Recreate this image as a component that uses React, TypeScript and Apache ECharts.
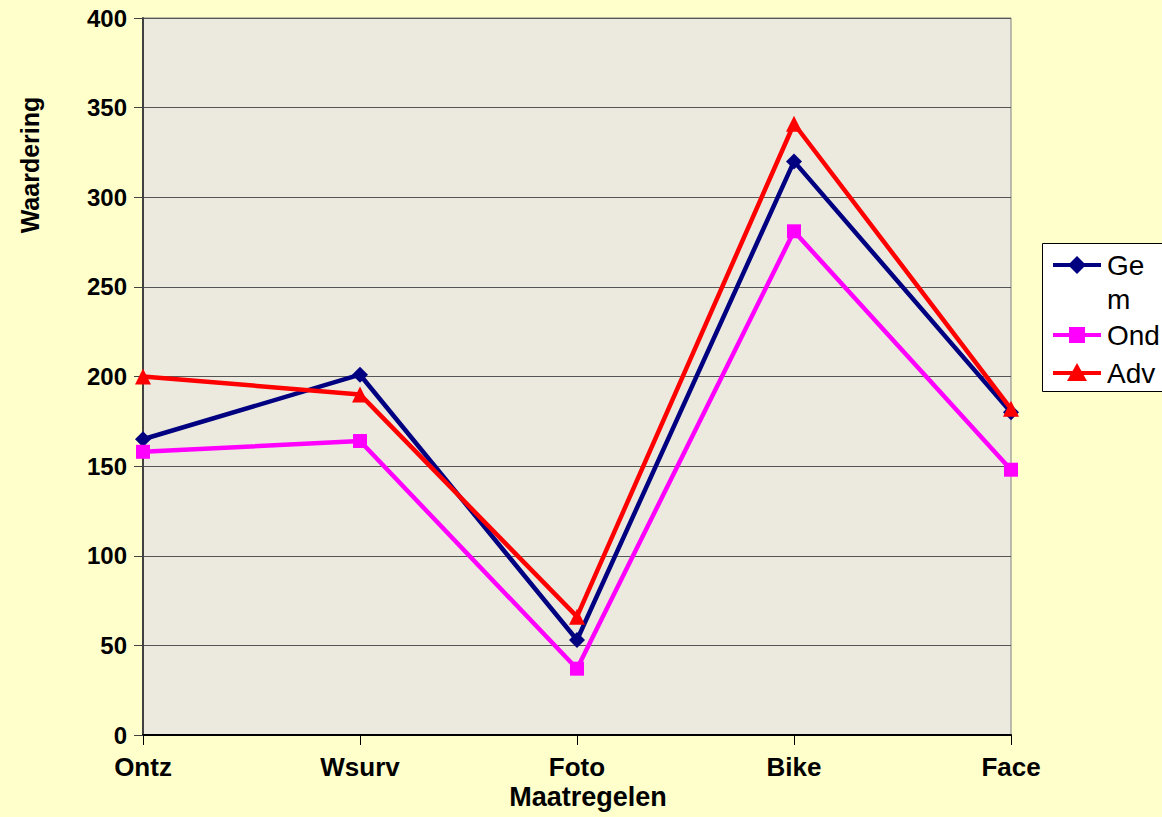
import React, { useEffect, useRef } from "react";
import * as echarts from "echarts";

const categories = ["Ontz", "Wsurv", "Foto", "Bike", "Face"];
const gemValues = [165, 201, 53, 320, 180];
const ondValues = [158, 164, 37, 281, 148];
const advValues = [200, 190, 66, 341, 182];
const seriesNames = ["Gem", "Ond", "Adv"];
const seriesColors = ["#000080", "#FF00FF", "#FF0000"];
const yAxisTitle = "Waardering";
const xAxisTitle = "Maatregelen";

const FONT = "'Liberation Sans', Arial, sans-serif";

export default function App() {
  const ref = useRef<HTMLDivElement>(null);
  useEffect(() => {
    if (!ref.current) return;
    const chart = echarts.init(ref.current, undefined, { renderer: "svg" });
    const legendX = 1042;
    const legendY = 243;
    const legendRows = [265, 335, 373];
    const legendGraphics: any[] = [
      {
        type: "rect",
        shape: { x: legendX + 0.5, y: legendY + 0.5, width: 140, height: 148 },
        style: { fill: "#FFFFFF", stroke: "#000000", lineWidth: 1 },
      },
    ];
    seriesNames.forEach((name, i) => {
      const y = legendRows[i];
      const c = seriesColors[i];
      legendGraphics.push({
        type: "line",
        shape: { x1: 1053, y1: y, x2: 1101, y2: y },
        style: { stroke: c, lineWidth: 4 },
      });
      const cx = 1077;
      if (i === 0) {
        legendGraphics.push({
          type: "polygon",
          shape: { points: [[cx, y - 9], [cx + 9, y], [cx, y + 9], [cx - 9, y]] },
          style: { fill: c },
        });
      } else if (i === 1) {
        legendGraphics.push({
          type: "rect",
          shape: { x: cx - 8, y: y - 8, width: 16, height: 16 },
          style: { fill: c },
        });
      } else {
        legendGraphics.push({
          type: "polygon",
          shape: { points: [[cx, y - 10], [cx + 10, y + 8], [cx - 10, y + 8]] },
          style: { fill: c },
        });
      }
      const label = i === 0 ? "Ge" : name;
      legendGraphics.push({
        type: "text",
        x: 1107,
        y,
        style: {
          text: label,
          font: `28px ${FONT}`,
          fill: "#000",
          textVerticalAlign: "middle",
          textAlign: "left",
        },
      });
      if (i === 0) {
        legendGraphics.push({
          type: "text",
          x: 1107,
          y: 299,
          style: {
            text: "m",
            font: `28px ${FONT}`,
            fill: "#000",
            textVerticalAlign: "middle",
            textAlign: "left",
          },
        });
      }
    });

    const mkSeries = (name: string, data: number[], color: string, symbol: string, size: number) => ({
      name,
      type: "line",
      data,
      symbol,
      symbolSize: size,
      showSymbol: true,
      lineStyle: { color, width: 4.5 },
      itemStyle: { color },
      z: 3,
    });

    chart.setOption({
      animation: false,
      backgroundColor: "#FFFFCC",
      grid: {
        left: 143,
        right: 151,
        top: 18,
        bottom: 82,
        show: true,
        backgroundColor: "#ECE9DF",
        borderColor: "#808080",
        borderWidth: 1,
      },
      xAxis: {
        type: "category",
        data: categories,
        boundaryGap: false,
        axisLine: { show: true, lineStyle: { color: "#000", width: 2 } },
        axisTick: { show: true, alignWithLabel: true, length: 10, lineStyle: { color: "#000" } },
        axisLabel: {
          color: "#000",
          fontFamily: FONT,
          fontWeight: "bold",
          fontSize: 26,
          margin: 19,
        },
        splitLine: { show: false },
      },
      yAxis: {
        type: "value",
        min: 0,
        max: 400,
        interval: 50,
        axisLine: { show: true, lineStyle: { color: "#404040", width: 2 } },
        axisTick: { show: true, length: 9, lineStyle: { color: "#404040" } },
        axisLabel: {
          color: "#000",
          fontFamily: FONT,
          fontWeight: "bold",
          fontSize: 24,
          margin: 16,
        },
        splitLine: { show: true, lineStyle: { color: "#555555", width: 1 } },
      },
      series: [
        mkSeries(seriesNames[0], gemValues, seriesColors[0], "diamond", 16),
        mkSeries(seriesNames[1], ondValues, seriesColors[1], "rect", 14),
        mkSeries(seriesNames[2], advValues, seriesColors[2], "triangle", 16),
      ],
      graphic: [
        {
          type: "text",
          x: 30,
          y: 165,
          rotation: Math.PI / 2,
          style: {
            text: yAxisTitle,
            font: `bold 25px ${FONT}`,
            fill: "#000",
            textAlign: "center",
            textVerticalAlign: "middle",
          },
        },
        {
          type: "text",
          x: 588,
          y: 797,
          style: {
            text: xAxisTitle,
            font: `bold 27px ${FONT}`,
            fill: "#000",
            textAlign: "center",
            textVerticalAlign: "middle",
          },
        },
        ...legendGraphics,
      ],
    });
    return () => chart.dispose();
  }, []);
  return (
    <div
      ref={ref}
      style={{ position: "fixed", left: 0, top: 0, width: 1162, height: 817 }}
    />
  );
}
